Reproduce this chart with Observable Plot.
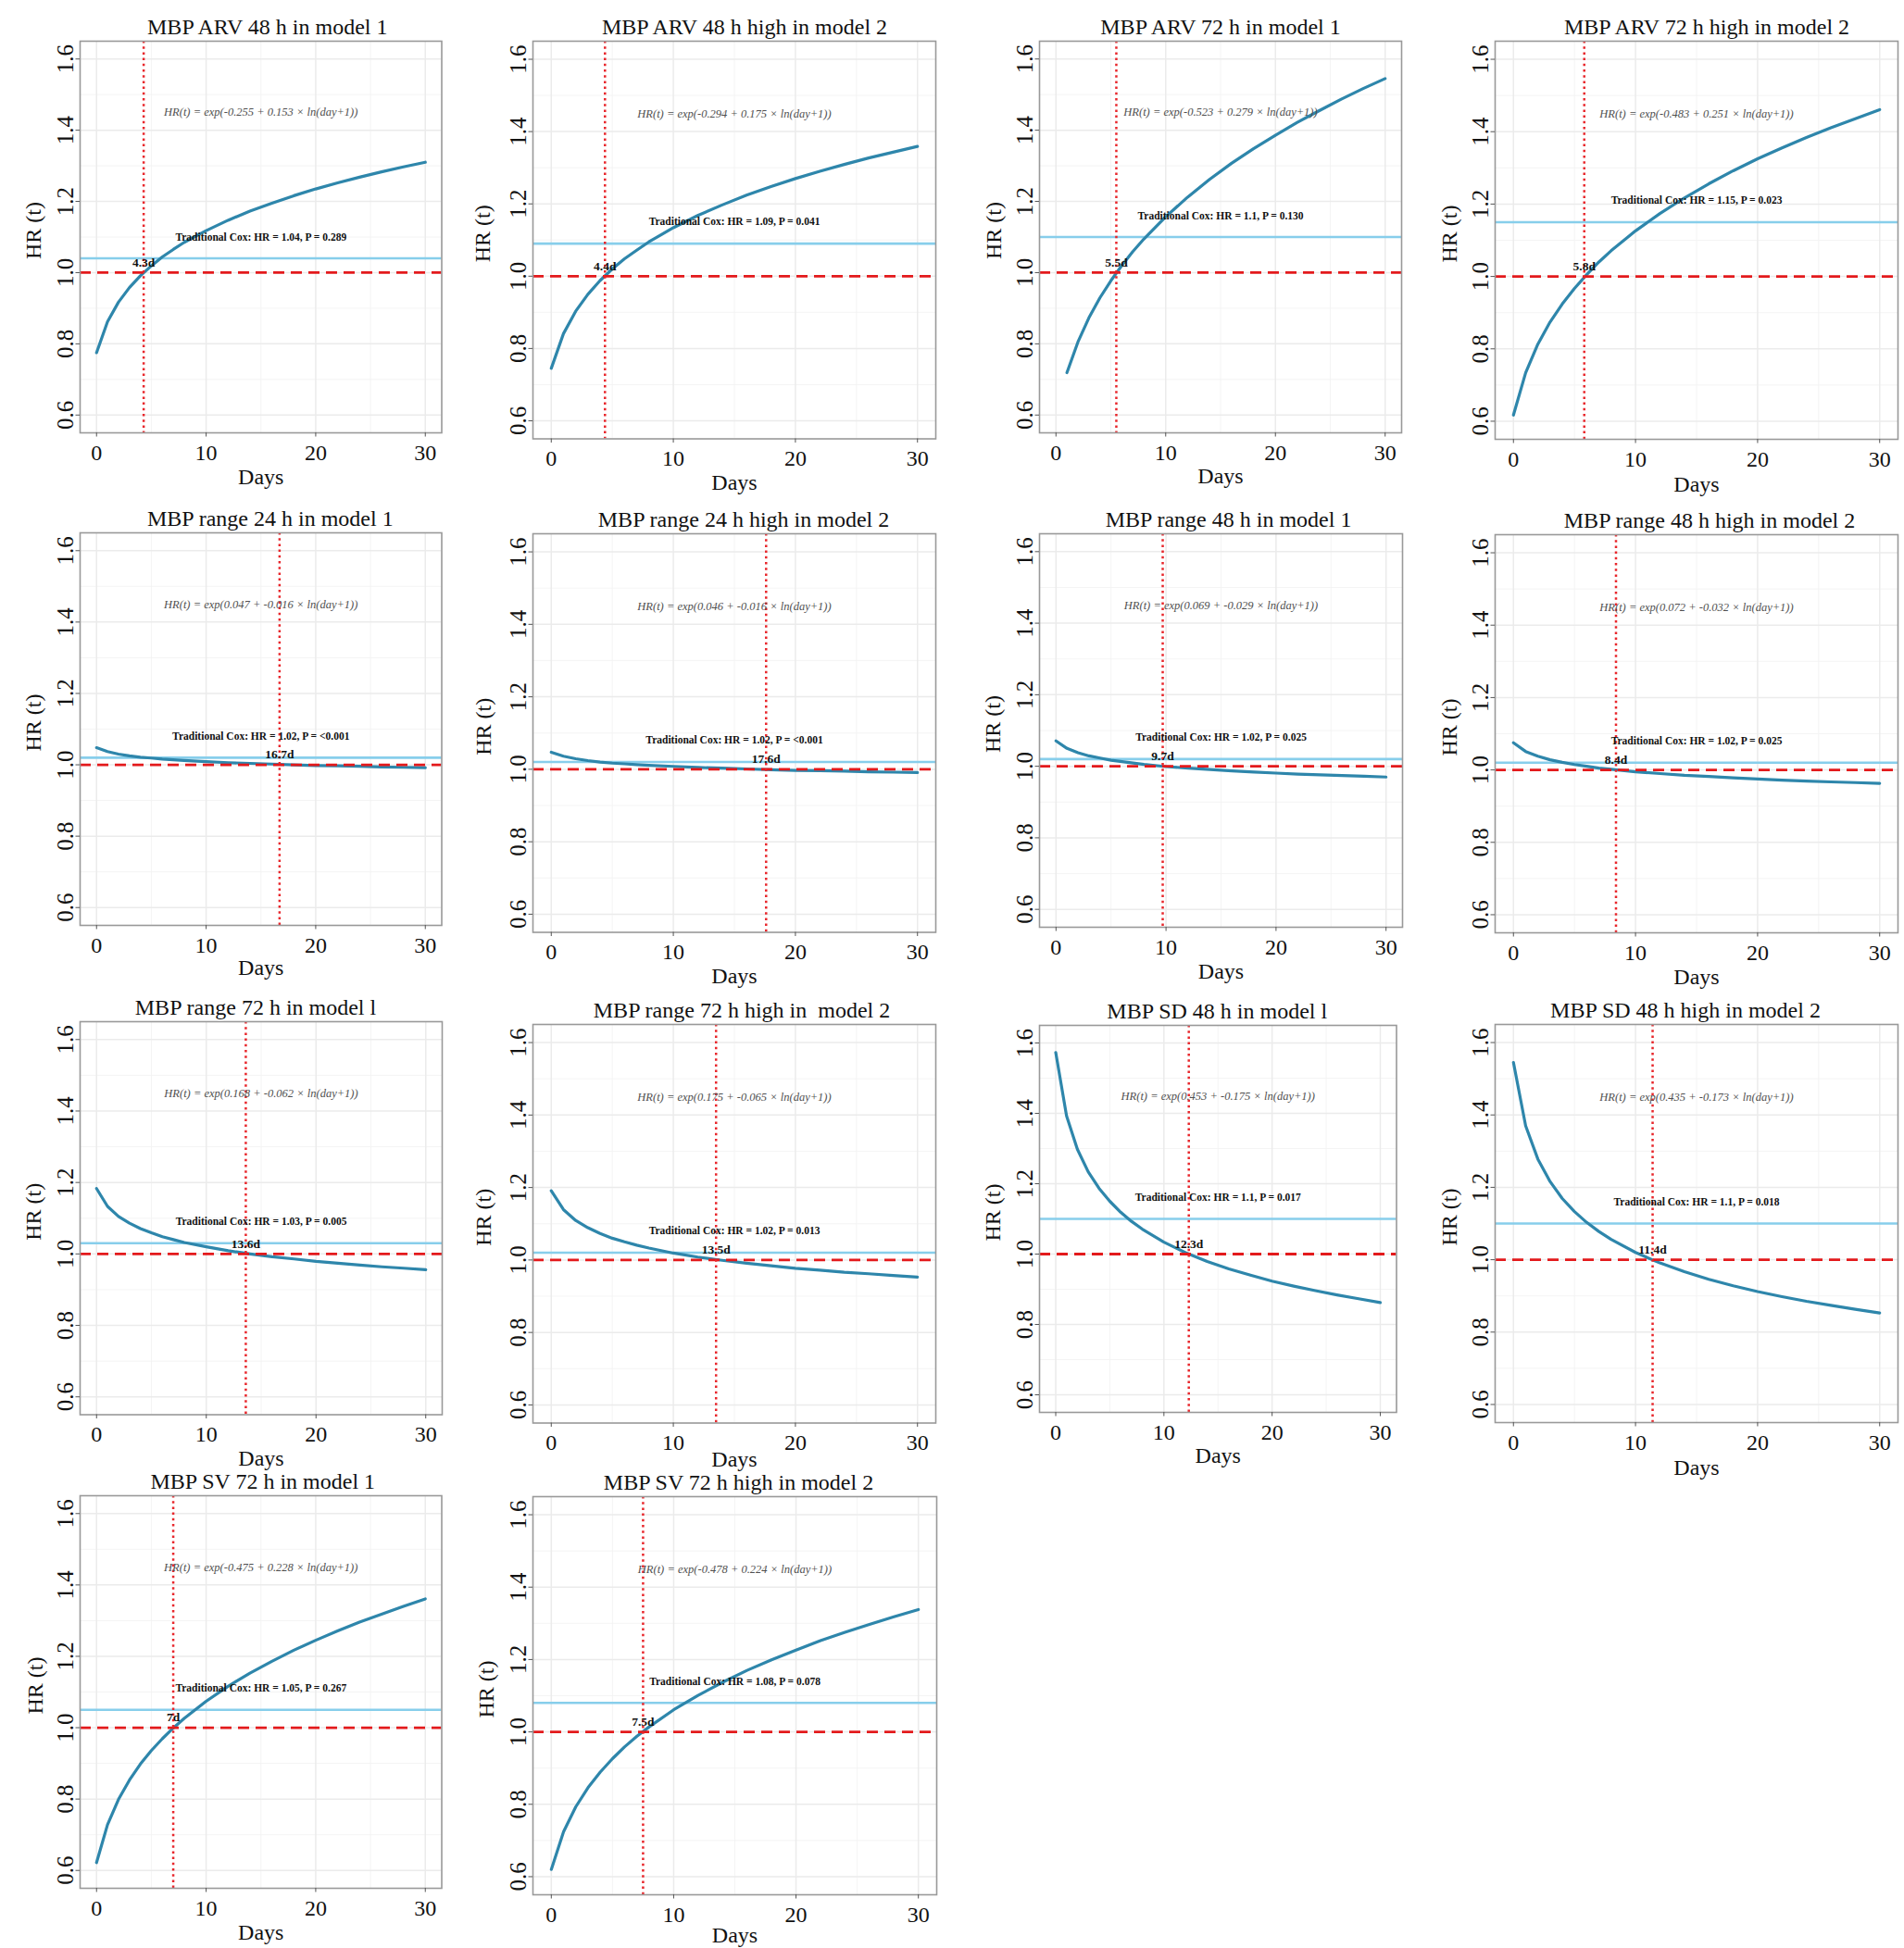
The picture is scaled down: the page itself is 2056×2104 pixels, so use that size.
<!DOCTYPE html>
<html><head><meta charset="utf-8">
<script src="https://cdn.jsdelivr.net/npm/d3@7"></script>
<script src="https://cdn.jsdelivr.net/npm/@observablehq/plot@0.6"></script>
<style>
html,body{margin:0;padding:0;background:#fff;}
#page{position:relative;width:2056px;height:2104px;overflow:hidden;background:#fff;}
#page svg{position:absolute;overflow:visible;}
#page g[aria-label="y-axis tick label"], #page g[aria-label="y-axis tick label"] text{font-size:25px;}
#page g[aria-label="x-axis tick label"], #page g[aria-label="x-axis tick label"] text{font-size:24px;}
</style></head><body><div id="page"></div>
<script>
// ---- data ----
const days = [0,1,2,3,4,5,6,7,8,10,12,14,16,18,20,22,24,26,28,30];

const hrArv48M1      = [0.775,0.862,0.917,0.958,0.991,1.019,1.044,1.065,1.085,1.118,1.147,1.173,1.195,1.216,1.235,1.252,1.268,1.283,1.297,1.310];
const hrArv48HighM2  = [0.745,0.841,0.903,0.950,0.988,1.020,1.048,1.072,1.095,1.134,1.168,1.197,1.224,1.248,1.270,1.290,1.309,1.327,1.343,1.359];
const hrArv72M1      = [null,0.719,0.805,0.873,0.929,0.977,1.020,1.059,1.094,1.157,1.212,1.262,1.307,1.348,1.386,1.422,1.455,1.487,1.517,1.545];
const hrArv72HighM2  = [0.617,0.734,0.813,0.874,0.924,0.967,1.005,1.040,1.071,1.126,1.174,1.217,1.256,1.292,1.325,1.355,1.384,1.411,1.436,1.461];
const hrRange24M1    = [1.048,1.037,1.030,1.025,1.021,1.019,1.016,1.014,1.012,1.009,1.006,1.004,1.002,1.000,0.998,0.997,0.996,0.994,0.993,0.992];
const hrRange24HighM2= [1.047,1.036,1.029,1.024,1.020,1.017,1.015,1.013,1.011,1.008,1.005,1.003,1.001,0.999,0.997,0.996,0.995,0.993,0.992,0.991];
const hrRange48M1    = [1.071,1.050,1.038,1.029,1.023,1.017,1.013,1.009,1.005,0.999,0.995,0.991,0.987,0.984,0.981,0.978,0.976,0.974,0.972,0.970];
const hrRange48HighM2= [1.075,1.051,1.038,1.028,1.021,1.015,1.010,1.005,1.002,0.995,0.990,0.985,0.982,0.978,0.975,0.972,0.969,0.967,0.965,0.963];
const hrRange72M1    = [1.183,1.133,1.105,1.086,1.071,1.059,1.048,1.040,1.032,1.020,1.009,1.000,0.992,0.986,0.979,0.974,0.969,0.964,0.960,0.956];
const hrRange72HighM2= [1.191,1.139,1.109,1.089,1.073,1.060,1.050,1.041,1.033,1.019,1.008,0.999,0.991,0.984,0.977,0.972,0.966,0.962,0.957,0.953];
const hrSd48M1       = [1.573,1.393,1.298,1.234,1.187,1.150,1.119,1.093,1.071,1.034,1.004,0.979,0.958,0.940,0.923,0.909,0.896,0.884,0.873,0.862];
const hrSd48HighM2   = [1.545,1.370,1.278,1.216,1.169,1.133,1.103,1.078,1.056,1.020,0.991,0.967,0.946,0.928,0.912,0.898,0.885,0.874,0.863,0.853];
const hrSv72M1       = [0.622,0.728,0.799,0.853,0.898,0.936,0.969,0.999,1.026,1.074,1.116,1.153,1.186,1.217,1.245,1.271,1.296,1.318,1.340,1.361];
const hrSv72HighM2   = [0.620,0.724,0.793,0.846,0.889,0.926,0.959,0.988,1.014,1.061,1.101,1.137,1.170,1.199,1.226,1.252,1.275,1.297,1.318,1.338];

const titles = [
  "MBP ARV 48 h in model 1","MBP ARV 48 h high in model 2","MBP ARV 72 h in model 1","MBP ARV 72 h high in model 2",
  "MBP range 24 h in model 1","MBP range 24 h high in model 2","MBP range 48 h in model 1","MBP range 48 h high in model 2",
  "MBP range 72 h in model l","MBP range 72 h high in  model 2","MBP SD 48 h in model l","MBP SD 48 h high in model 2",
  "MBP SV 72 h in model 1","MBP SV 72 h high in model 2"
];
const formulas = [
  "HR(t) = exp(-0.255 + 0.153 × ln(day+1))","HR(t) = exp(-0.294 + 0.175 × ln(day+1))",
  "HR(t) = exp(-0.523 + 0.279 × ln(day+1))","HR(t) = exp(-0.483 + 0.251 × ln(day+1))",
  "HR(t) = exp(0.047 + -0.016 × ln(day+1))","HR(t) = exp(0.046 + -0.016 × ln(day+1))",
  "HR(t) = exp(0.069 + -0.029 × ln(day+1))","HR(t) = exp(0.072 + -0.032 × ln(day+1))",
  "HR(t) = exp(0.168 + -0.062 × ln(day+1))","HR(t) = exp(0.175 + -0.065 × ln(day+1))",
  "HR(t) = exp(0.453 + -0.175 × ln(day+1))","HR(t) = exp(0.435 + -0.173 × ln(day+1))",
  "HR(t) = exp(-0.475 + 0.228 × ln(day+1))","HR(t) = exp(-0.478 + 0.224 × ln(day+1))"
];
const coxHR = [1.04,1.09,1.1,1.15,1.02,1.02,1.02,1.02,1.03,1.02,1.1,1.1,1.05,1.08];
const coxP = ["0.289","0.041","0.130","0.023","<0.001","<0.001","0.025","0.025","0.005","0.013","0.017","0.018","0.267","0.078"];
const crossDay = [4.3,4.4,5.5,5.8,16.7,17.6,9.7,8.4,13.6,13.5,12.3,11.4,7,7.5];

const xTicks = [0,10,20,30];
const xMinor = [5,15,25];
const yTicks = [0.6,0.8,1.0,1.2,1.4,1.6];
const yMinor = [0.7,0.9,1.1,1.3,1.5];

const series = [hrArv48M1,hrArv48HighM2,hrArv72M1,hrArv72HighM2,hrRange24M1,hrRange24HighM2,hrRange48M1,hrRange48HighM2,
  hrRange72M1,hrRange72HighM2,hrSd48M1,hrSd48HighM2,hrSv72M1,hrSv72HighM2];

// annotation anchors (data space)
const annotDay = 15, formulaHR = 1.45, coxLabelGap = 0.06, refHR = 1;

// ---- layout (panel frame boxes and text offsets, px) ----
const boxes = [
  [85.5,44,390.5,423],[575,44,435,429.5],[1122,43.5,391,423],[1614,44,435,430],
  [85.5,575,390.5,424],[575,576,435,430.5],[1122,575.5,392,425],[1614,577,435,430],
  [85.5,1102.5,391,424.5],[575,1106,435,430.5],[1122,1106.5,385.5,418],[1614,1106,435,430],
  [86,1614.5,390.5,424],[574.5,1616,436,430]
];
const titleDx   = [7,11,0,11, 10,10,8,14, -6,8,-1,-12, 2,4];
const xTitleDy  = [55,55,54,56, 53,55,55,55, 55,47,54,56, 55,51];
const yTitleDx  = [-43,-47,-42,-42, -43,-46,-43,-42, -43,-46,-43,-42, -41,-43];

const ml = 95, mr = 15, mt = 45, mb = 75;
const FONT = "'Liberation Serif', 'Times New Roman', serif";
const page = document.getElementById("page");

series.forEach((vals, i) => {
  const [L, T, W, H] = boxes[i];
  const pts = days.map((d, j) => ({day: d, hr: vals[j]})).filter(p => p.hr != null);
  const coxLabel = `Traditional Cox: HR = ${coxHR[i]}, P = ${coxP[i]}`;
  const crossLabel = `${crossDay[i]}d`;
  const svg = Plot.plot({
    width: W + ml + mr, height: H + mt + mb,
    marginLeft: ml, marginRight: mr, marginTop: mt, marginBottom: mb,
    style: {fontFamily: FONT, fontSize: "24px", color: "black", background: "transparent", overflow: "visible"},
    x: {domain: [-1.5, 31.5]},
    y: {domain: [0.55, 1.65]},
    marks: [
      Plot.gridX(xMinor, {stroke: "#f3f3f3", strokeOpacity: 1, strokeWidth: 0.9}),
      Plot.gridY(yMinor, {stroke: "#f3f3f3", strokeOpacity: 1, strokeWidth: 0.9}),
      Plot.gridX(xTicks, {stroke: "#ebebeb", strokeOpacity: 1, strokeWidth: 1.5}),
      Plot.gridY(yTicks, {stroke: "#ebebeb", strokeOpacity: 1, strokeWidth: 1.5}),
      Plot.ruleY([coxHR[i]], {stroke: "#87CEEB", strokeWidth: 2.6}),
      Plot.line(pts, {x: "day", y: "hr", stroke: "#2E86AB", strokeWidth: 3.2}),
      Plot.ruleY([refHR], {stroke: "#E31A1C", strokeWidth: 2.8, strokeDasharray: "12,7"}),
      Plot.ruleX([crossDay[i]], {stroke: "#E8262B", strokeWidth: 2.5, strokeDasharray: "2.5,3.7"}),
      Plot.text([formulas[i]], {x: () => annotDay, y: () => formulaHR, text: d => d,
        fontStyle: "italic", fontSize: 12.5, fill: "#505050", textAnchor: "middle", lineAnchor: "middle"}),
      Plot.text([coxLabel], {x: () => annotDay, y: () => coxHR[i] + coxLabelGap, text: d => d,
        fontWeight: "bold", fontSize: 11.5, fill: "#111", textAnchor: "middle", lineAnchor: "middle"}),
      Plot.text([crossLabel], {x: () => crossDay[i], y: () => refHR, dy: -11, text: d => d,
        fontWeight: "bold", fontSize: 13.5, fill: "#111", textAnchor: "middle", lineAnchor: "middle"}),
      Plot.frame({stroke: "#999", strokeWidth: 1.6}),
      Plot.axisX({ticks: xTicks, tickSize: 4.5, tickPadding: 7.5, fontSize: 24, stroke: "#555", fill: "#111", label: null}),
      Plot.axisY({ticks: yTicks, tickFormat: d3.format(".1f"), tickRotate: -90, tickSize: 4.5, tickPadding: 3.5,
        fontSize: 25, stroke: "#555", fill: "#111", label: null}),
      Plot.text(["Days"], {frameAnchor: "bottom", dy: xTitleDy[i], lineAnchor: "bottom", fontSize: 24, fill: "#111", text: d => d}),
      Plot.text(["HR (t)"], {frameAnchor: "left", dx: yTitleDx[i], dy: -7, rotate: -90, lineAnchor: "bottom",
        textAnchor: "middle", fontSize: 24, fill: "#111", text: d => d}),
      Plot.text([titles[i]], {frameAnchor: "top", dx: titleDx[i], dy: -8, lineAnchor: "bottom", fontSize: 24, fill: "#111", text: d => d})
    ]
  });
  svg.style.left = (L - ml) + "px";
  svg.style.top = (T - mt) + "px";
  svg.style.maxWidth = "none";
  page.appendChild(svg);
});
</script></body></html>
